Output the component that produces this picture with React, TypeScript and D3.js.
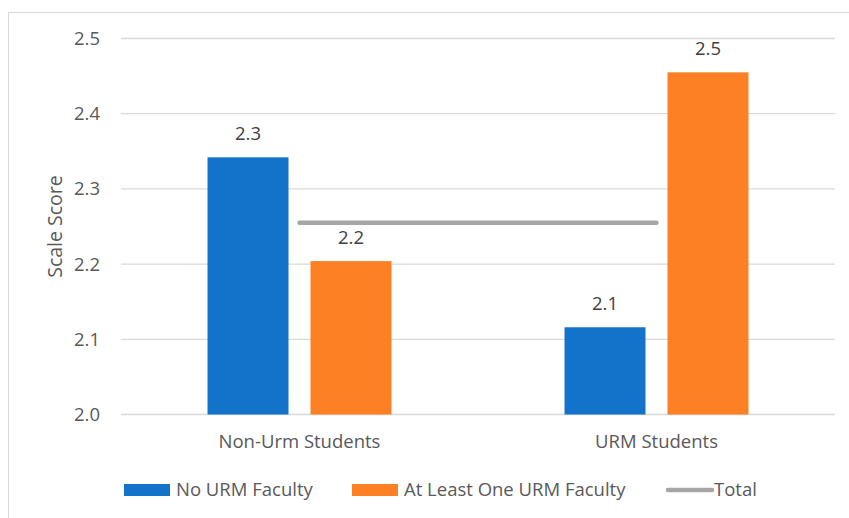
import { useEffect, useRef } from 'react';
import * as d3 from 'd3';

const categories = ['Non-Urm Students', 'URM Students'];
const seriesNames = ['No URM Faculty', 'At Least One URM Faculty'];
const noUrmFaculty = [2.342, 2.116];
const atLeastOneUrm = [2.204, 2.455];
const totalValues = [2.255, 2.255];
const valueLabels = [['2.3', '2.1'], ['2.2', '2.5']];
const yTicks = [2.0, 2.1, 2.2, 2.3, 2.4, 2.5];

const colors = ['#1372c9', '#fd8025'];
const totalColor = '#a6a6a6';
const font = "'Open Sans', sans-serif";
const fs = 18.5;

export default function App() {
  const svgRef = useRef<SVGSVGElement>(null);

  useEffect(() => {
    if (!svgRef.current) return;
    const width = 849;
    const height = 518;
    const svg = d3.select(svgRef.current);
    svg.selectAll('*').remove();
    svg.attr('width', width).attr('height', height).style('font-family', font);

    const margin = { left: 121, right: 14, top: 38.5, bottom: 103.5 };
    const plotW = width - margin.left - margin.right;
    const plotH = height - margin.top - margin.bottom;

    // chart frame
    svg.append('rect')
      .attr('x', 8.5).attr('y', 12.5)
      .attr('width', 860).attr('height', 520)
      .attr('fill', 'white').attr('stroke', '#d9d9d9');

    const g = svg.append('g').attr('transform', `translate(${margin.left},${margin.top})`);

    const x0 = d3.scaleBand<string>().domain(categories).range([0, plotW]);
    const x1 = d3.scaleBand<string>().domain(seriesNames).range([0, x0.bandwidth()])
      .paddingInner(0.2136).paddingOuter(0.84);
    const y = d3.scaleLinear().domain([2.0, 2.5]).range([plotH, 0]);

    // gridlines
    g.selectAll('line.grid')
      .data(yTicks)
      .join('line')
      .attr('class', 'grid')
      .attr('x1', 0).attr('x2', plotW)
      .attr('y1', d => y(d)).attr('y2', d => y(d))
      .attr('stroke', '#d9d9d9').attr('stroke-width', 1.3);

    // y tick labels
    g.selectAll('text.ytick')
      .data(yTicks)
      .join('text')
      .attr('class', 'ytick')
      .attr('x', -21).attr('y', d => y(d))
      .attr('dy', '0.35em')
      .attr('text-anchor', 'end')
      .attr('fill', '#595959')
      .attr('font-size', fs)
      .text(d => d.toFixed(1));

    // y axis title
    g.append('text')
      .attr('transform', `translate(${55 - margin.left},${y(2.25)}) rotate(-90)`)
      .attr('text-anchor', 'middle')
      .attr('dy', '0.35em')
      .attr('fill', '#595959')
      .attr('font-size', fs + 1)
      .text('Scale Score');

    // bars
    const series = [noUrmFaculty, atLeastOneUrm];
    series.forEach((vals, si) => {
      const grp = g.append('g');
      grp.selectAll('rect')
        .data(vals)
        .join('rect')
        .attr('x', (_, i) => (x0(categories[i]) || 0) + (x1(seriesNames[si]) || 0))
        .attr('y', d => y(d))
        .attr('width', x1.bandwidth())
        .attr('height', d => plotH - y(d))
        .attr('fill', colors[si]);
      grp.selectAll('text')
        .data(vals)
        .join('text')
        .attr('x', (_, i) => (x0(categories[i]) || 0) + (x1(seriesNames[si]) || 0) + x1.bandwidth() / 2)
        .attr('y', d => y(d) - 17)
        .attr('text-anchor', 'middle')
        .attr('fill', '#404040')
        .attr('font-size', fs)
        .text((_, i) => valueLabels[si][i]);
    });

    // total line
    const line = d3.line<number>()
      .x((_, i) => (x0(categories[i]) || 0) + x0.bandwidth() / 2)
      .y(d => y(d));
    g.append('path')
      .datum(totalValues)
      .attr('d', line)
      .attr('fill', 'none')
      .attr('stroke', totalColor)
      .attr('stroke-width', 4.5)
      .attr('stroke-linecap', 'round');

    // category labels
    g.selectAll('text.xcat')
      .data(categories)
      .join('text')
      .attr('class', 'xcat')
      .attr('x', d => (x0(d) || 0) + x0.bandwidth() / 2)
      .attr('y', plotH + 27)
      .attr('dy', '0.35em')
      .attr('text-anchor', 'middle')
      .attr('fill', '#595959')
      .attr('font-size', fs)
      .text(d => d);

    // legend
    const ly = 490;
    const legendItems = [
      { name: seriesNames[0], color: colors[0], x: 124, kind: 'rect' },
      { name: seriesNames[1], color: colors[1], x: 352, kind: 'rect' },
      { name: 'Total', color: totalColor, x: 666, kind: 'line' },
    ];
    const lg = svg.append('g');
    legendItems.forEach(it => {
      if (it.kind === 'rect') {
        lg.append('rect')
          .attr('x', it.x).attr('y', ly - 6)
          .attr('width', 46).attr('height', 12)
          .attr('fill', it.color);
      } else {
        lg.append('line')
          .attr('x1', it.x + 2).attr('x2', it.x + 46)
          .attr('y1', ly).attr('y2', ly)
          .attr('stroke', it.color).attr('stroke-width', 4.5)
          .attr('stroke-linecap', 'round');
      }
      lg.append('text')
        .attr('x', it.x + (it.kind === 'rect' ? 52 : 48))
        .attr('y', ly)
        .attr('dy', '0.35em')
        .attr('fill', '#595959')
        .attr('font-size', fs)
        .text(it.name);
    });
  }, []);

  return <svg ref={svgRef} style={{ position: 'absolute', left: 0, top: 0 }} />;
}
